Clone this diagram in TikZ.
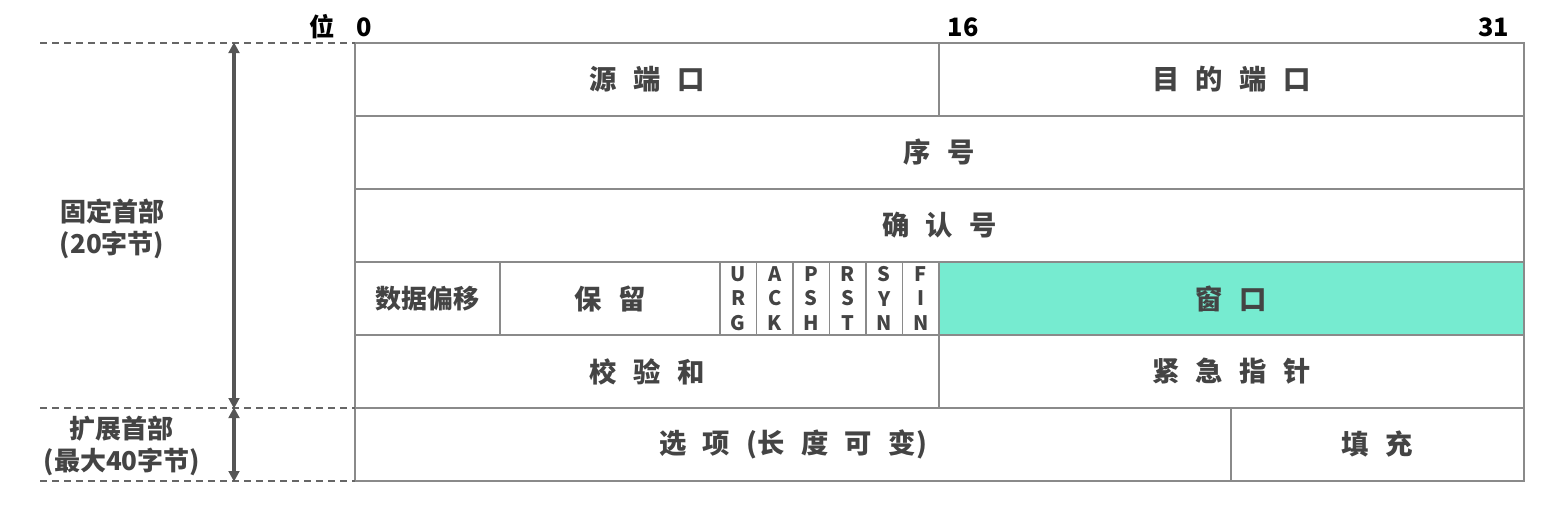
\documentclass[tikz,border=0pt]{standalone}
\usepackage{fontspec}
\setmainfont{Noto Sans CJK SC}
\usetikzlibrary{arrows.meta}
\definecolor{txt}{HTML}{444444}
\definecolor{linec}{HTML}{8A8A8A}
\definecolor{arrc}{HTML}{555555}
\definecolor{dashc}{HTML}{666666}
\definecolor{winc}{HTML}{76EBD0}
\newcommand{\gapsp}{\hspace{0.6em}}
\tikzset{
  cell/.style={draw=linec, line width=1.1pt, anchor=north west, inner sep=0pt, outer sep=0pt,
    minimum height=54.75pt, text=txt, font=\fontsize{20.5}{22}\selectfont\bfseries},
  flag/.style={cell, minimum width=27.375pt, align=center,
    font=\fontsize{15}{18.4}\selectfont\bfseries},
  side/.style={text=txt, align=center, font=\fontsize{19.5}{24}\selectfont\bfseries},
  hdr/.style={text=black, font=\fontsize{19}{20}\selectfont\bfseries},
  dashln/.style={draw=dashc, line width=1.1pt, dash pattern=on 5.5pt off 3.5pt},
  span/.style={draw=arrc, line width=3pt, {Triangle[length=8pt,width=8pt]}-{Triangle[length=8pt,width=8pt]}, shorten <=-0.5pt, shorten >=-0.5pt}
}
\begin{document}
\begin{tikzpicture}[x=0.75pt,y=-0.75pt]
\useasboundingbox (0,0) rectangle (1543,504);
% header
\node[hdr] (wei) at (322,27) {位};
\node[hdr, anchor=west] (b0) at (352,27) {0};
\node[hdr, anchor=west] (b16) at (943,27) {16};
\node[hdr, anchor=east] (b31) at (1514,27) {31};
% rows
\node[cell, minimum width=438pt] (src) at (355,43) {源\gapsp 端\gapsp 口};
\node[cell, minimum width=438.75pt] (dst) at (939,43) {目\gapsp 的\gapsp 端\gapsp 口};
\node[cell, minimum width=876.75pt] (seq) at (355,116) {序\gapsp 号};
\node[cell, minimum width=876.75pt] (ack) at (355,189) {确\gapsp 认\gapsp 号};
\node[cell, minimum width=108.75pt, font=\fontsize{19.5}{20}\selectfont\bfseries] (off) at (355,262) {数据偏移};
\node[cell, minimum width=165pt] (res) at (500,262) {保\gapsp 留};
\node[flag] (urg) at (720,262) {U\\R\\G};
\node[flag] (fack) at (756.5,262) {A\\C\\K};
\node[flag] (psh) at (793,262) {P\\S\\H};
\node[flag] (rst) at (829.5,262) {R\\S\\T};
\node[flag] (syn) at (866,262) {S\\Y\\N};
\node[flag] (fin) at (902.5,262) {F\\I\\N};
\node[cell, minimum width=438.75pt, fill=winc] (win) at (939,262) {窗\gapsp 口};
\node[cell, minimum width=438pt] (chk) at (355,335) {校\gapsp 验\gapsp 和};
\node[cell, minimum width=438.75pt] (urgp) at (939,335) {紧\gapsp 急\gapsp 指\gapsp 针};
\node[cell, minimum width=657pt] (opt) at (355,408) {选\gapsp 项\gapsp (长\gapsp 度\gapsp 可\gapsp 变)};
\node[cell, minimum width=219.75pt] (pad) at (1231,408) {填\gapsp 充};
% left side
\coordinate (d1) at (40,43);
\coordinate (d2) at (40,408);
\coordinate (d3) at (40,481);
\draw[dashln] (d1) -- (src.north west);
\draw[dashln] (d2) -- (opt.north west);
\draw[dashln] (d3) -- (opt.south west);
\coordinate (a1) at (234,43);
\coordinate (a2) at (234,408);
\coordinate (a3) at (234,481);
\draw[span] (a1) -- (a2);
\draw[span] (a2) -- (a3);
\node[side] (fixed) at (112,229) {固定首部\\(20字节)};
\node[side] (ext) at (122,446) {扩展首部\\(最大40字节)};
\end{tikzpicture}
\end{document}
